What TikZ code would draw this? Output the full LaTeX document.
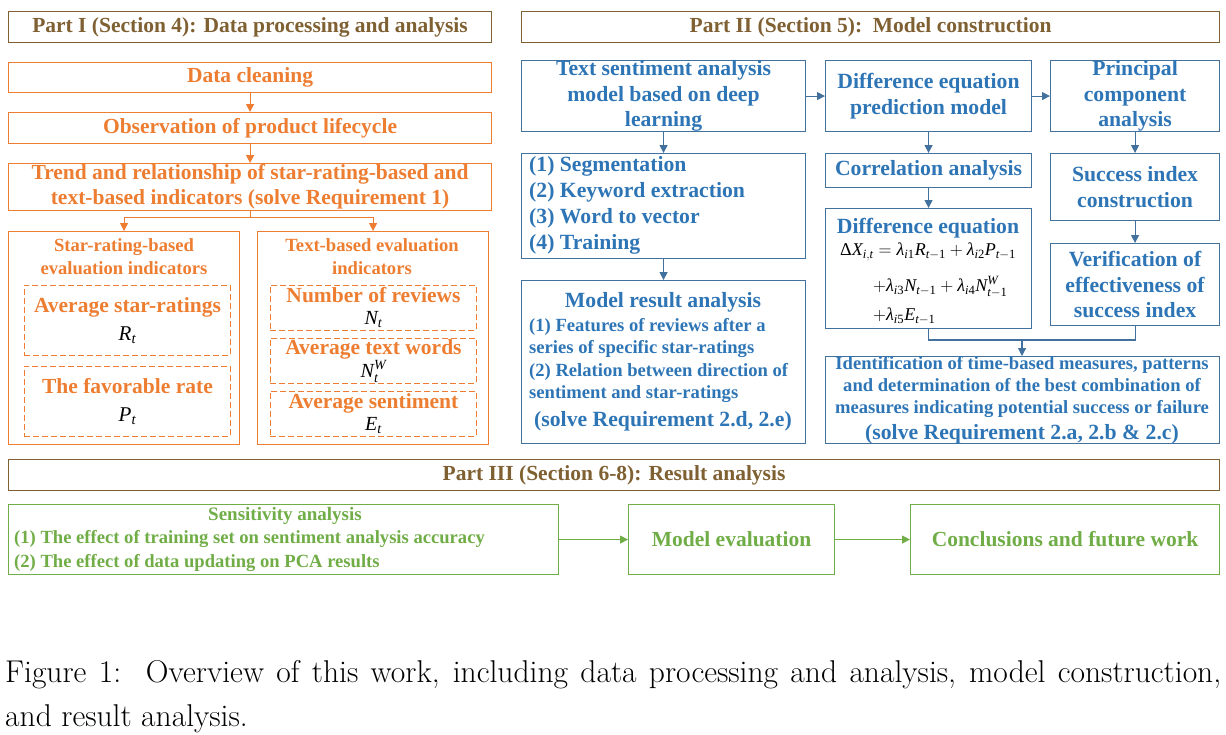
\RequirePackage{fix-cm}
\documentclass[tikz,border=0pt]{standalone}
\usepackage{amsmath}
\usepackage{fontspec}
\newfontfamily\tnr{Liberation Serif}
\usetikzlibrary{arrows.meta}
\definecolor{brn}{HTML}{7F6032}
\definecolor{org}{HTML}{ED7D31}
\definecolor{blu}{HTML}{2E75B6}
\definecolor{bld}{HTML}{41719C}
\definecolor{grn}{HTML}{70AD47}
\newcommand{\fs}[2]{\fontsize{#1}{#2}\selectfont}
\newcommand{\vv}[1]{\text{\tnr\mdseries\itshape #1}}
\newcommand{\uu}[1]{\text{\tnr\mdseries\upshape #1}}
\begin{document}
\begin{tikzpicture}[x=1pt,y=-1pt,
  box/.style={draw, line width=1.1pt, anchor=north west, inner sep=0pt, align=center},
  tbox/.style={box, draw=brn, text=brn, font=\tnr\bfseries\fs{21.5}{24}},
  obox/.style={box, draw=org, text=org, font=\tnr\bfseries\fs{21.5}{25}},
  odash/.style={obox, dashed, dash pattern=on 6pt off 3pt, line width=0.9pt},
  bbox/.style={box, draw=bld, text=blu, font=\tnr\bfseries\fs{21.7}{25.5}},
  gbox/.style={box, draw=grn, text=grn, font=\tnr\bfseries\fs{21.5}{24}},
  otxt/.style={inner sep=0pt, align=center, text=org, font=\tnr\bfseries\fs{18.6}{23}},
  btxt/.style={inner sep=0pt, align=center, text=blu, font=\tnr\bfseries\fs{21.7}{26}},
  bsmall/.style={inner sep=0pt, align=center, text=blu, font=\tnr\bfseries\fs{18.6}{22.3}},
  gtxt/.style={inner sep=0pt, align=left, text=grn, font=\tnr\bfseries\fs{18.6}{24}},
  mtxt/.style={inner sep=0pt, anchor=west, text=black, font=\fs{18}{20}},
  tip/.style={-{Triangle[length=8pt,width=8pt]}},
  oarrow/.style={draw=org, line width=1.1pt, tip},
  oline/.style={draw=org, line width=1.1pt},
  barrow/.style={draw=bld, line width=1.1pt, tip},
  bline/.style={draw=bld, line width=1.1pt},
  garrow/.style={draw=grn, line width=1.1pt, tip}
]
\useasboundingbox (0,0) rectangle (1226,734);

% ---------- Part I ----------
\node[tbox, minimum width=483pt, minimum height=31pt] (p1) at (8,11) {Part I (Section 4): Data processing and analysis};
\node[obox, minimum width=483pt, minimum height=30pt] (dc) at (8,62) {Data cleaning};
\node[obox, minimum width=483pt, minimum height=31pt] (obs) at (8,112) {Observation of product lifecycle};
\node[obox, minimum width=483pt, minimum height=47pt] (trend) at (8,163) {Trend and relationship of star-rating-based and\\text-based indicators (solve Requirement 1)};
\node[obox, minimum width=231pt, minimum height=213pt] (star) at (8,231) {};
\node[obox, minimum width=231pt, minimum height=213pt] (textb) at (257,231) {};
\node[otxt] (starT) at (124,257) {Star-rating-based\\evaluation indicators};
\node[otxt] (textT) at (372,257) {Text-based evaluation\\indicators};
\node[odash, minimum width=206pt, minimum height=70pt, font=\tnr\bfseries\fs{21.5}{28}] (avs) at (24,285) {Average star-ratings\\{\color{black}\fs{21}{28}$\vv{R}_{\vv{t}}$}};
\node[odash, minimum width=206pt, minimum height=70pt, font=\tnr\bfseries\fs{21.5}{28}] (fav) at (24,366) {The favorable rate\\{\color{black}\fs{21}{28}$\vv{P}_{\vv{t}}$}};
\node[odash, minimum width=206pt, minimum height=45pt, font=\tnr\bfseries\fs{21.5}{22}] (nrev) at (270,285) {Number of reviews\\{\color{black}\fs{20}{22}$\vv{N}_{\vv{t}}$}};
\node[odash, minimum width=206pt, minimum height=45pt, font=\tnr\bfseries\fs{21.5}{21}] (atw) at (270,338) {Average text words\\{\color{black}\fs{20}{21}$\vv{N}_{\vv{t}}^{\vv{W}}$}};
\node[odash, minimum width=206pt, minimum height=45pt, font=\tnr\bfseries\fs{21.5}{22}] (asent) at (270,391) {Average sentiment\\{\color{black}\fs{20}{22}$\vv{E}_{\vv{t}}$}};

\draw[oarrow] (dc) -- (obs);
\draw[oarrow] (obs) -- (trend);
\draw[oarrow] (trend.south) -- ++(0,6) -| (star.north);
\draw[oarrow] (trend.south) -- ++(0,6) -| (textb.north);

% ---------- Part II ----------
\node[tbox, minimum width=698pt, minimum height=31pt] (p2) at (521,11) {Part II (Section 5):\ \ Model construction};
\node[bbox, minimum width=284pt, minimum height=71pt] (tsa) at (521,60) {Text sentiment analysis\\model based on deep\\learning};
\node[bbox, minimum width=206pt, minimum height=71pt] (dep) at (825,60) {Difference equation\\prediction model};
\node[bbox, minimum width=169pt, minimum height=71pt] (pca) at (1050,60) {Principal\\component\\analysis};
\node[bbox, minimum width=284pt, minimum height=105pt] (steps) at (521,153) {};
\node[btxt, anchor=west, align=left] (stepsT) at (529,205) {(1) Segmentation\\(2) Keyword extraction\\(3) Word to vector\\(4) Training};
\node[bbox, minimum width=206pt, minimum height=34pt] (corr) at (825,153) {Correlation analysis};
\node[bbox, minimum width=169pt, minimum height=67pt] (succ) at (1050,153) {Success index\\construction};
\node[bbox, minimum width=284pt, minimum height=163pt] (mra) at (521,280) {};
\node[btxt] (mraT) at (663,302) {Model result analysis};
\node[bsmall, anchor=west, align=left] (mraI) at (529,360.5) {(1) Features of reviews after a\\series of specific star-ratings\\(2) Relation between direction of\\sentiment and star-ratings};
\node[btxt] (mraS) at (663,421) {(solve Requirement 2.d, 2.e)};
\node[bbox, minimum width=206pt, minimum height=120pt] (deq) at (825,208) {};
\node[btxt] (deqT) at (928,228) {Difference equation};
\node[mtxt] (eq1) at (840,252) {$\uu{Δ}\vv{X}_{\vv{i},\vv{t}}=\vv{λ}_{\vv{i}\uu{1}}\vv{R}_{\vv{t}-\uu{1}}+\vv{λ}_{\vv{i}\uu{2}}\vv{P}_{\vv{t}-\uu{1}}$};
\node[mtxt] (eq2) at (873,287) {$+\vv{λ}_{\vv{i}\uu{3}}\vv{N}_{\vv{t}-\uu{1}}+\vv{λ}_{\vv{i}\uu{4}}\vv{N}_{\vv{t}-\uu{1}}^{\vv{W}}$};
\node[mtxt] (eq3) at (873,316) {$+\vv{λ}_{\vv{i}\uu{5}}\vv{E}_{\vv{t}-\uu{1}}$};
\node[bbox, minimum width=169pt, minimum height=82pt] (ver) at (1050,243) {Verification of\\effectiveness of\\success index};
\node[bbox, minimum width=394pt, minimum height=87pt] (ident) at (825,356) {};
\node[bsmall, font=\tnr\bfseries\fs{18.6}{22}] (identT) at (1022,387) {Identification of time-based measures, patterns\\and determination of the best combination of\\measures indicating potential success or failure};
\node[btxt] (identS) at (1022,434) {(solve Requirement 2.a, 2.b \& 2.c)};

\draw[barrow] (tsa) -- (dep);
\draw[barrow] (dep) -- (pca);
\draw[barrow] (tsa) -- (steps);
\draw[barrow] (steps) -- (mra);
\draw[barrow] (dep) -- (corr);
\draw[barrow] (corr) -- (deq);
\draw[barrow] (pca) -- (succ);
\draw[barrow] (succ) -- (ver);
\coordinate (mj) at (1022,340);
\draw[bline] (deq.south) |- (mj);
\draw[bline] (ver.south) |- (mj);
\draw[barrow] (mj) -- (mj |- ident.north);

% ---------- Part III ----------
\node[tbox, minimum width=1211pt, minimum height=31pt] (p3) at (8,459) {Part III (Section 6-8): Result analysis};
\node[gbox, minimum width=550pt, minimum height=70pt] (sens) at (8,504) {};
\node[gtxt, align=center, font=\tnr\bfseries\fs{19}{24}] (sensT) at (285,516) {Sensitivity analysis};
\node[gtxt, anchor=west] (sensI) at (14,551) {(1) The effect of training set on sentiment analysis accuracy\\(2) The effect of data updating on PCA results};
\node[gbox, minimum width=206pt, minimum height=70pt] (meval) at (628,504) {Model evaluation};
\node[gbox, minimum width=309pt, minimum height=70pt] (concl) at (910,504) {Conclusions and future work};
\draw[garrow] (sens) -- (meval);
\draw[garrow] (meval) -- (concl);

% ---------- Caption ----------
\node[anchor=base west, inner sep=0pt, font=\fs{31.5}{36}] (cap1) at (5,682) {\makebox[1216pt][s]{Figure 1:\ \ Overview of this work, including data processing and analysis, model construction,}};
\node[anchor=base west, inner sep=0pt, font=\fs{31.5}{36}] (cap2) at (5,726) {and result analysis.};
\end{tikzpicture}
\end{document}
